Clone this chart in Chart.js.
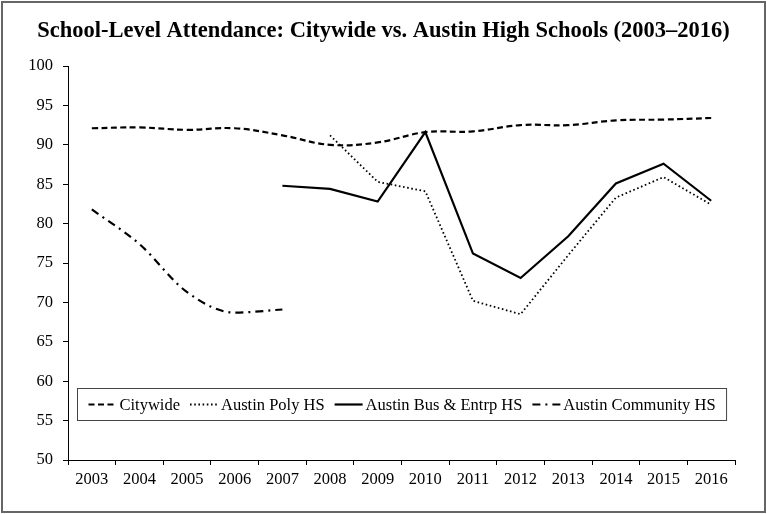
<!DOCTYPE html>
<html>
<head>
<meta charset="utf-8">
<script src="https://cdn.jsdelivr.net/npm/chart.js@4/dist/chart.umd.min.js"></script>
<style>
  html, body { margin: 0; padding: 0; background: #fff; }
  #wrap { width: 767px; height: 514px; position: relative; }
</style>
</head>
<body>
<div id="wrap"><canvas id="c" width="767" height="514"></canvas></div>
<script>
const years = ['2003','2004','2005','2006','2007','2008','2009','2010','2011','2012','2013','2014','2015','2016'];
const citywide = [92.1, 92.2, 91.9, 92.1, 91.2, 90.0, 90.3, 91.6, 91.7, 92.5, 92.5, 93.1, 93.2, 93.4];
const austinPoly = [null, null, null, null, null, 91.2, 85.3, 84.1, 70.2, 68.5, 76.0, 83.3, 85.9, 82.4];
const austinBus = [null, null, null, null, 84.8, 84.4, 82.8, 91.6, 76.2, 73.1, 78.4, 85.1, 87.6, 82.9];
const austinCommunity = [81.8, 77.4, 71.3, 68.7, 69.1, null, null, null, null, null, null, null, null, null];
const yTicks = [50, 55, 60, 65, 70, 75, 80, 85, 90, 95, 100];
const titleText = 'School-Level Attendance: Citywide vs. Austin High Schools (2003\u20132016)';

const SERIF = '"Liberation Serif", "Times New Roman", serif';

const legendPlugin = {
  id: 'boxLegend',
  afterDraw(chart) {
    const ctx = chart.ctx;
    const area = chart.chartArea;
    const font = '16.5px ' + SERIF;
    ctx.save();
    ctx.font = font;
    const sample = 28, gapText = 3, gapItem = 10, padX = 11;
    const items = chart.data.datasets.map(ds => ({ ds, w: ctx.measureText(ds.label).width }));
    let total = padX * 2;
    items.forEach((it, i) => { total += sample + gapText + it.w + (i < items.length - 1 ? gapItem : 0); });
    const cx = (area.left + area.right) / 2;
    const x0 = Math.round(cx - total / 2) + 0.5;
    const yTop = chart.scales.y.getPixelForValue(59.1);
    const yBot = chart.scales.y.getPixelForValue(55.1);
    const top = Math.round(yTop) + 0.5, h = Math.round(yBot - yTop);
    ctx.fillStyle = '#fff';
    ctx.fillRect(x0, top, total, h);
    ctx.strokeStyle = '#444';
    ctx.lineWidth = 1;
    ctx.strokeRect(x0, top, total, h);
    const midY = top + h / 2;
    let x = x0 + padX;
    items.forEach(it => {
      const ds = it.ds;
      ctx.beginPath();
      ctx.setLineDash(ds.borderDash || []);
      ctx.lineWidth = ds.borderWidth;
      ctx.strokeStyle = ds.borderColor;
      ctx.lineCap = 'butt';
      ctx.moveTo(x, midY);
      ctx.lineTo(x + sample, midY);
      ctx.stroke();
      ctx.setLineDash([]);
      x += sample + gapText;
      ctx.fillStyle = '#000';
      ctx.textBaseline = 'middle';
      ctx.textAlign = 'left';
      ctx.fillText(ds.label, x, midY + 1);
      x += it.w + gapItem;
    });
    ctx.restore();
  }
};

const framePlugin = {
  id: 'frame',
  beforeDraw(chart) {
    const ctx = chart.ctx;
    ctx.save();
    ctx.fillStyle = '#fff';
    ctx.fillRect(0, 0, chart.width, chart.height);
    ctx.restore();
  },
  afterDraw(chart) {
    const ctx = chart.ctx;
    ctx.save();
    ctx.strokeStyle = '#666';
    ctx.lineWidth = 2;
    ctx.strokeRect(2, 2, chart.width - 4, chart.height - 4);
    ctx.restore();
  }
};

new Chart(document.getElementById('c'), {
  type: 'line',
  data: {
    labels: years,
    datasets: [
      { label: 'Citywide', data: citywide, borderColor: '#000', borderWidth: 2.2, borderDash: [6, 3.5], tension: 0.4, pointRadius: 0, fill: false },
      { label: 'Austin Poly HS', data: austinPoly, borderColor: '#000', borderWidth: 1.8, borderDash: [1.6, 2.6], tension: 0, pointRadius: 0, fill: false },
      { label: 'Austin Bus & Entrp HS', data: austinBus, borderColor: '#000', borderWidth: 2.2, borderDash: [], tension: 0, pointRadius: 0, fill: false },
      { label: 'Austin Community HS', data: austinCommunity, borderColor: '#000', borderWidth: 2.2, borderDash: [8, 5, 2, 5], cubicInterpolationMode: 'monotone', pointRadius: 0, fill: false }
    ]
  },
  options: {
    responsive: false,
    animation: false,
    devicePixelRatio: 1,
    layout: { padding: 0 },
    plugins: {
      legend: { display: false },
      tooltip: { enabled: false },
      title: {
        display: true,
        text: titleText,
        color: '#000',
        font: { family: SERIF, size: 22.5, weight: 'bold', lineHeight: 1.2 },
        padding: { top: 18, bottom: 21 }
      }
    },
    scales: {
      x: {
        offset: true,
        grid: { display: true, drawOnChartArea: false, drawTicks: true, tickLength: 5, color: '#000', offset: true },
        border: { display: true, color: '#000', width: 1 },
        ticks: { color: '#000', font: { family: SERIF, size: 16.5 }, padding: 5, maxRotation: 0, autoSkip: false },
        afterFit(scale) { scale.height = 54; }
      },
      y: {
        min: 50,
        max: 100,
        afterBuildTicks(scale) { scale.ticks = yTicks.map(v => ({ value: v })); },
        grid: { display: true, drawOnChartArea: false, drawTicks: true, tickLength: 5, color: '#000' },
        border: { display: true, color: '#000', width: 1 },
        ticks: { color: '#000', font: { family: SERIF, size: 16.5 }, padding: 10 },
        afterFit(scale) { scale.width = 68; }
      },
      yRight: {
        type: 'linear',
        position: 'right',
        display: true,
        grid: { display: false, drawTicks: false },
        border: { display: false },
        ticks: { display: false },
        afterFit(scale) { scale.width = 32; }
      }
    }
  },
  plugins: [framePlugin, legendPlugin]
});
</script>
</body>
</html>
